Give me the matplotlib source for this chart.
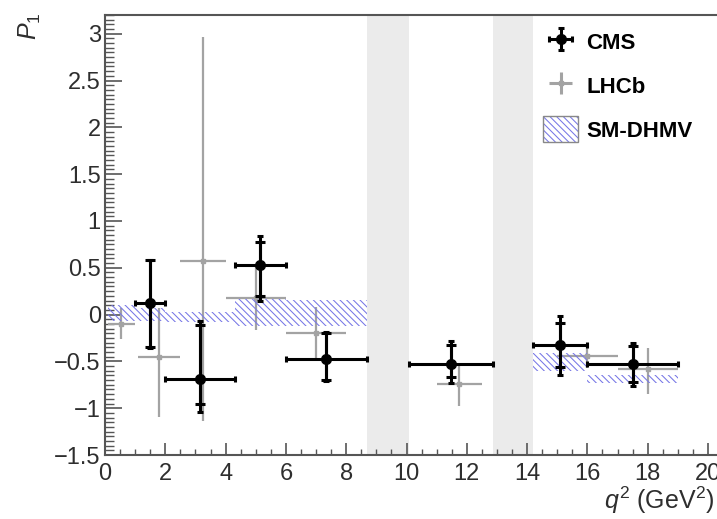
import numpy as np
import matplotlib
matplotlib.use('agg')
from matplotlib import pyplot as plt
from matplotlib.patches import Patch
from matplotlib.legend_handler import HandlerTuple
from matplotlib.ticker import MultipleLocator, FuncFormatter

plt.rcParams['font.family'] = ['Liberation Sans', 'DejaVu Sans']
plt.rcParams['mathtext.fontset'] = 'custom'
plt.rcParams['mathtext.rm'] = 'Liberation Sans'
plt.rcParams['mathtext.it'] = 'Liberation Sans:italic'
plt.rcParams['hatch.linewidth'] = 0.75

# CMS P1 per q2 bin (stat asymmetric, syst symmetric)
cms_lo = np.array([1.0, 2.0, 4.3, 6.0, 10.09, 14.18, 16.0])
cms_hi = np.array([2.0, 4.3, 6.0, 8.68, 12.86, 16.0, 19.0])
cms_p1 = np.array([0.12, -0.69, 0.53, -0.47, -0.53, -0.33, -0.53])
cms_stat_up = np.array([0.46, 0.58, 0.24, 0.27, 0.20, 0.24, 0.19])
cms_stat_dn = np.array([0.47, 0.27, 0.33, 0.23, 0.14, 0.23, 0.19])
cms_syst = np.array([0.06, 0.23, 0.19, 0.07, 0.15, 0.21, 0.13])

# LHCb P1
lhcb_lo = np.array([0.1, 1.1, 2.5, 4.0, 6.0, 11.0, 15.0, 17.0])
lhcb_hi = np.array([0.98, 2.5, 4.0, 6.0, 8.0, 12.5, 17.0, 19.0])
lhcb_p1 = np.array([-0.10, -0.45, 0.57, 0.18, -0.20, -0.745, -0.44, -0.58])
lhcb_up = np.array([0.17, 0.52, 2.40, 0.36, 0.28, 0.21, 0.13, 0.22])
lhcb_dn = np.array([0.16, 0.64, 1.71, 0.35, 0.28, 0.23, 0.13, 0.27])

# SM prediction (DHMV) bands
sm_lo = np.array([0.1, 1.0, 2.0, 4.3, 6.0, 14.18, 16.0])
sm_hi = np.array([1.0, 2.0, 4.3, 6.0, 8.68, 16.0, 19.0])
sm_bot = np.array([-0.07, -0.07, -0.08, -0.12, -0.12, -0.60, -0.73])
sm_top = np.array([0.10, 0.07, 0.03, 0.17, 0.16, -0.41, -0.65])

# charmonium vetoes
veto_lo = [8.68, 12.86]
veto_hi = [10.09, 14.18]

hatch_col = '#7676e6'
lhcb_col = '#a3a3a3'
txt_col = '#2e2e2e'

fig = plt.figure(figsize=(7.17, 5.19), dpi=100)
ax = fig.add_axes([105 / 717, 1 - 455 / 519, 21 * 30.15 / 717, 440 / 519])

for a, b in zip(veto_lo, veto_hi):
    ax.axvspan(a, b, color='#ebebeb', lw=0, zorder=0)

ax.errorbar((lhcb_lo + lhcb_hi) / 2, lhcb_p1, xerr=(lhcb_hi - lhcb_lo) / 2,
            yerr=[lhcb_dn, lhcb_up], fmt='s', ms=2.5, color=lhcb_col,
            ecolor=lhcb_col, lw=1.6, capsize=0, zorder=2)
lhcb_leg = ax.errorbar([], [], xerr=[], yerr=[], fmt='s', ms=2.5, color=lhcb_col,
                       ecolor=lhcb_col, lw=2.2, capsize=0)

ax.bar(sm_lo, sm_top - sm_bot, width=sm_hi - sm_lo, bottom=sm_bot, align='edge',
       facecolor='none', edgecolor=hatch_col, hatch='\\' * 5, lw=0, zorder=3)

cms_x = (cms_lo + cms_hi) / 2
tot_up = np.sqrt(cms_stat_up ** 2 + cms_syst ** 2)
tot_dn = np.sqrt(cms_stat_dn ** 2 + cms_syst ** 2)
cms = ax.errorbar(cms_x, cms_p1, xerr=(cms_hi - cms_lo) / 2, yerr=[tot_dn, tot_up],
                  fmt='o', ms=7, color='black', lw=2.2, capsize=2.5, capthick=2.2,
                  zorder=4)
ax.errorbar(cms_x, cms_p1, yerr=[cms_stat_dn, cms_stat_up], fmt='none',
            ecolor='black', lw=2.2, capsize=3.5, capthick=2.2, zorder=4)

ax.set_xlim(0, 21)
ax.set_ylim(-1.5, 3.2)

ax.xaxis.set_major_locator(MultipleLocator(2))
ax.xaxis.set_minor_locator(MultipleLocator(0.5))
ax.yaxis.set_major_locator(MultipleLocator(0.5))
ax.yaxis.set_minor_locator(MultipleLocator(0.05))
fmt = FuncFormatter(lambda v, _: f'{v:g}'.replace('-', '\u2212'))
ax.xaxis.set_major_formatter(fmt)
ax.yaxis.set_major_formatter(fmt)
ax.tick_params(axis='x', which='major', direction='in', length=8.5, width=1.2,
               pad=6, labelsize=17, colors='#555555', labelcolor=txt_col)
ax.tick_params(axis='x', which='minor', direction='in', length=4.3, width=1.0,
               colors='#555555')
ax.tick_params(axis='y', which='major', direction='in', length=12, width=1.2,
               pad=3, labelsize=17, colors='#555555', labelcolor=txt_col)
ax.tick_params(axis='y', which='minor', direction='in', length=6.5, width=1.0,
               colors='#555555')
for s in ax.spines.values():
    s.set_color('#555555')
    s.set_linewidth(1.5)

ax.text((714 - 105) / 633, -0.122, r'$q^{2}$ (GeV$^{2}$)', transform=ax.transAxes,
        ha='right', va='baseline', fontsize=18, color=txt_col)
fig.text(30 / 717, 1 - 12 / 519, r'$P_{1}$', rotation=90, ha='center', va='top',
         fontsize=18, color=txt_col)

sm_leg = (Patch(facecolor='none', edgecolor=hatch_col, hatch='\\' * 5, lw=0),
          Patch(facecolor='none', edgecolor='#888888', lw=1.0))
leg = ax.legend([cms, lhcb_leg, sm_leg], ['CMS', 'LHCb', 'SM-DHMV'], loc='upper left',
                bbox_to_anchor=(543 / 717, 1 - 29 / 519), bbox_transform=fig.transFigure,
                frameon=False, borderpad=0, borderaxespad=0, handlelength=1.58,
                handleheight=1.44, handletextpad=0.36, labelspacing=0.78,
                handler_map={tuple: HandlerTuple(ndivide=1)},
                prop={'weight': 'bold', 'size': 16})

fig.savefig('out.png', dpi=100)
